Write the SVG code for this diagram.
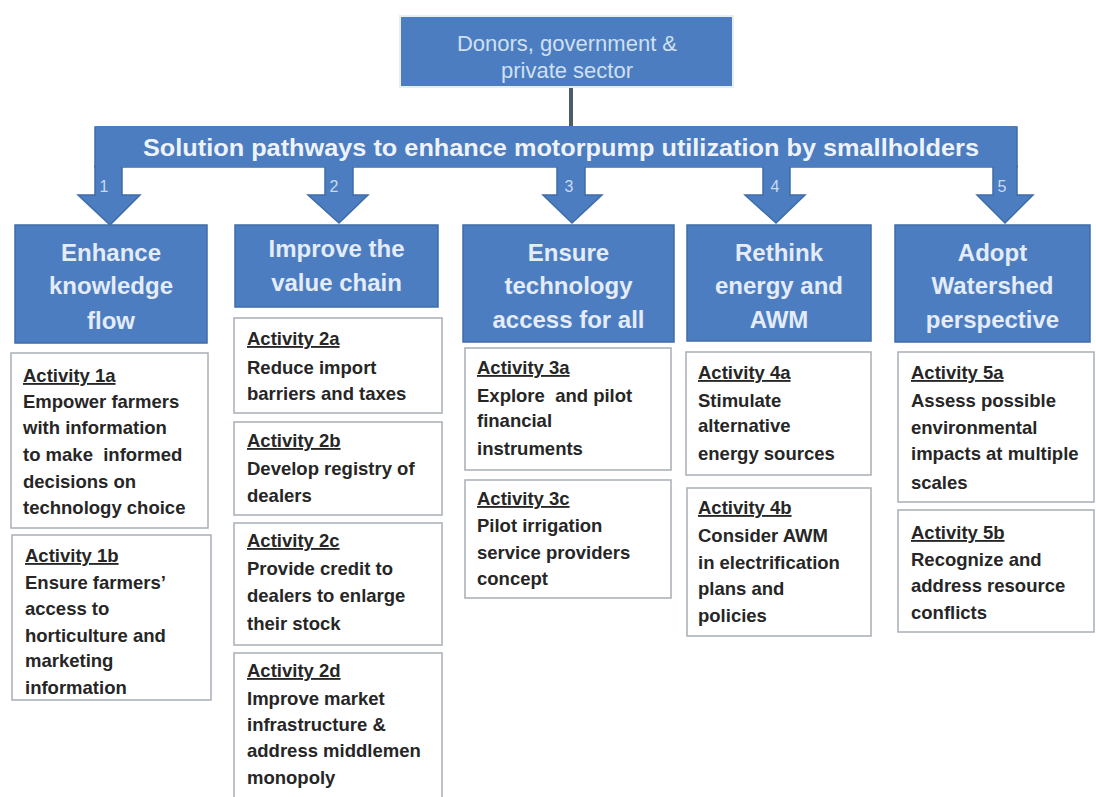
<svg xmlns="http://www.w3.org/2000/svg" width="1096" height="797" viewBox="0 0 1096 797">
<defs>
<style>
.blue{fill:#4C7DC0;stroke:#3E6CA8;stroke-width:1.5}
.hdr{font-family:"Liberation Sans",Arial,sans-serif;font-weight:bold;font-size:24px;fill:#E4ECF8;text-anchor:middle}
.act{fill:#FFFFFF;stroke:#A8AEB6;stroke-width:1.5}
.at{font-family:"Liberation Sans",Arial,sans-serif;font-weight:bold;font-size:18.5px;fill:#262626;white-space:pre}
.ttl{text-decoration:underline}
.num{font-family:"Liberation Sans",Arial,sans-serif;font-size:16px;fill:#C9DAF0;text-anchor:middle}
</style>
</defs>
<rect width="1096" height="797" fill="#FFFFFF"/>

<g id="connectors">
<line x1="571" y1="87" x2="571" y2="128" stroke="#4D5B6B" stroke-width="4"/>
<rect class="blue" x="95" y="127" width="922" height="40"/>
<polygon class="blue" points="95,166 122,166 122,195 140,195 110,225 78,195 95,195"/>
<polygon class="blue" points="325,166 353,166 353,195 368,195 339,223 308,195 325,195"/>
<polygon class="blue" points="557,166 585,166 585,195 602,195 572,223 543,195 557,195"/>
<polygon class="blue" points="763,166 790,166 790,195 805,195 776,223 745,195 763,195"/>
<polygon class="blue" points="993,166 1017,166 1017,195 1033,195 1005,223 977,195 993,195"/>
<rect x="96" y="126" width="920" height="41" fill="#4C7DC0"/>
<text x="561" y="156" font-family="Liberation Sans,Arial,sans-serif" font-weight="bold" font-size="24" fill="#EEF3FA" text-anchor="middle" textLength="836" lengthAdjust="spacingAndGlyphs">Solution pathways to enhance motorpump utilization by smallholders</text>
<text class="num" x="104" y="192">1</text>
<text class="num" x="334" y="192">2</text>
<text class="num" x="569" y="192">3</text>
<text class="num" x="775" y="192">4</text>
<text class="num" x="1002" y="192">5</text>
</g>

<g id="top">
<rect x="400" y="16" width="333" height="71" fill="#4C7DC0" stroke="#E8EDF3" stroke-width="2"/>
<text x="567" y="51" font-family="Liberation Sans,Arial,sans-serif" font-size="22" fill="#CFE0F2" text-anchor="middle">Donors, government &amp;</text>
<text x="567" y="78" font-family="Liberation Sans,Arial,sans-serif" font-size="22" fill="#CFE0F2" text-anchor="middle">private sector</text>
</g>

<g id="h1">
<rect class="blue" x="15" y="225" width="192" height="118"/>
<text class="hdr" x="111" y="261">Enhance</text>
<text class="hdr" x="111" y="294">knowledge</text>
<text class="hdr" x="111" y="329">flow</text>
</g>
<g id="h2">
<rect class="blue" x="235" y="225" width="203" height="82"/>
<text class="hdr" x="336.5" y="257">Improve the</text>
<text class="hdr" x="336.5" y="291">value chain</text>
</g>
<g id="h3">
<rect class="blue" x="463" y="225" width="211" height="117"/>
<text class="hdr" x="568.5" y="261">Ensure</text>
<text class="hdr" x="568.5" y="294">technology</text>
<text class="hdr" x="568.5" y="328">access for all</text>
</g>
<g id="h4">
<rect class="blue" x="687" y="225" width="184" height="116"/>
<text class="hdr" x="779" y="261">Rethink</text>
<text class="hdr" x="779" y="294">energy and</text>
<text class="hdr" x="779" y="328">AWM</text>
</g>
<g id="h5">
<rect class="blue" x="895" y="225" width="195" height="117"/>
<text class="hdr" x="992.5" y="261">Adopt</text>
<text class="hdr" x="992.5" y="294">Watershed</text>
<text class="hdr" x="992.5" y="328">perspective</text>
</g>

<g id="a1a">
<rect class="act" x="11" y="353" width="197" height="175"/>
<text class="at ttl" x="23" y="382">Activity 1a</text>
<text class="at" x="23" y="408">Empower farmers</text>
<text class="at" x="23" y="434">with information</text>
<text class="at" x="23" y="461">to make  informed</text>
<text class="at" x="23" y="488">decisions on</text>
<text class="at" x="23" y="514">technology choice</text>
</g>
<g id="a1b">
<rect class="act" x="12" y="535" width="199" height="165"/>
<text class="at ttl" x="25" y="562">Activity 1b</text>
<text class="at" x="25" y="589">Ensure farmers’</text>
<text class="at" x="25" y="615">access to</text>
<text class="at" x="25" y="642">horticulture and</text>
<text class="at" x="25" y="667">marketing</text>
<text class="at" x="25" y="694">information</text>
</g>

<g id="a2a">
<rect class="act" x="234" y="318" width="208" height="95"/>
<text class="at ttl" x="247" y="345">Activity 2a</text>
<text class="at" x="247" y="374">Reduce import</text>
<text class="at" x="247" y="400">barriers and taxes</text>
</g>
<g id="a2b">
<rect class="act" x="234" y="422" width="208" height="93"/>
<text class="at ttl" x="247" y="447">Activity 2b</text>
<text class="at" x="247" y="475">Develop registry of</text>
<text class="at" x="247" y="502">dealers</text>
</g>
<g id="a2c">
<rect class="act" x="234" y="523" width="208" height="122"/>
<text class="at ttl" x="247" y="547">Activity 2c</text>
<text class="at" x="247" y="575">Provide credit to</text>
<text class="at" x="247" y="602">dealers to enlarge</text>
<text class="at" x="247" y="630">their stock</text>
</g>
<g id="a2d">
<rect class="act" x="234" y="653" width="208" height="150"/>
<text class="at ttl" x="247" y="677">Activity 2d</text>
<text class="at" x="247" y="705">Improve market</text>
<text class="at" x="247" y="731">infrastructure &amp;</text>
<text class="at" x="247" y="757">address middlemen</text>
<text class="at" x="247" y="784">monopoly</text>
</g>

<g id="a3a">
<rect class="act" x="465" y="348" width="206" height="122"/>
<text class="at ttl" x="477" y="374">Activity 3a</text>
<text class="at" x="477" y="402">Explore  and pilot</text>
<text class="at" x="477" y="427">financial</text>
<text class="at" x="477" y="455">instruments</text>
</g>
<g id="a3c">
<rect class="act" x="465" y="480" width="206" height="118"/>
<text class="at ttl" x="477" y="505">Activity 3c</text>
<text class="at" x="477" y="532">Pilot irrigation</text>
<text class="at" x="477" y="559">service providers</text>
<text class="at" x="477" y="585">concept</text>
</g>

<g id="a4a">
<rect class="act" x="686" y="352" width="185" height="123"/>
<text class="at ttl" x="698" y="379">Activity 4a</text>
<text class="at" x="698" y="407">Stimulate</text>
<text class="at" x="698" y="432">alternative</text>
<text class="at" x="698" y="460">energy sources</text>
</g>
<g id="a4b">
<rect class="act" x="687" y="488" width="184" height="148"/>
<text class="at ttl" x="698" y="514">Activity 4b</text>
<text class="at" x="698" y="542">Consider AWM</text>
<text class="at" x="698" y="569">in electrification</text>
<text class="at" x="698" y="595">plans and</text>
<text class="at" x="698" y="622">policies</text>
</g>

<g id="a5a">
<rect class="act" x="898" y="352" width="196" height="150"/>
<text class="at ttl" x="911" y="379">Activity 5a</text>
<text class="at" x="911" y="407">Assess possible</text>
<text class="at" x="911" y="434">environmental</text>
<text class="at" x="911" y="460">impacts at multiple</text>
<text class="at" x="911" y="489">scales</text>
</g>
<g id="a5b">
<rect class="act" x="898" y="510" width="196" height="122"/>
<text class="at ttl" x="911" y="539">Activity 5b</text>
<text class="at" x="911" y="566">Recognize and</text>
<text class="at" x="911" y="592">address resource</text>
<text class="at" x="911" y="619">conflicts</text>
</g>
</svg>
